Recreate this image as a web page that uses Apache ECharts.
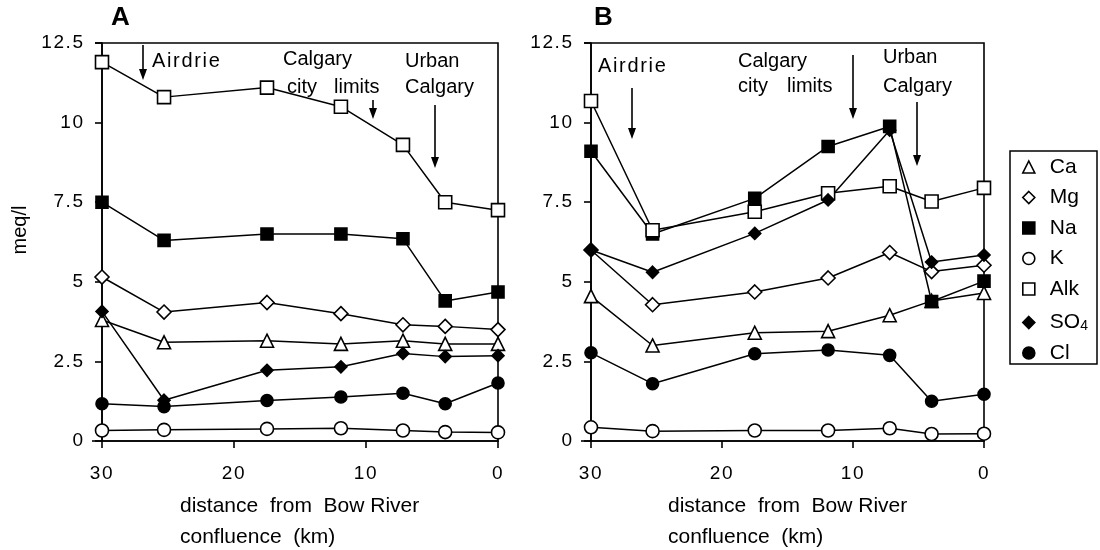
<!DOCTYPE html>
<html><head><meta charset="utf-8">
<script src="https://cdn.jsdelivr.net/npm/echarts@6/dist/echarts.min.js"></script>
<style>html,body{margin:0;padding:0;background:#fff}#c{width:1100px;height:550px}</style>
</head><body><div id="c"></div>
<script>
// distance from Bow River confluence (km)
const distances = [30, 25.3, 17.5, 11.9, 7.2, 4, 0];
const ions = ['Ca', 'Mg', 'Na', 'K', 'Alk', 'SO4', 'Cl'];

// Panel A (meq/l)
const A_Ca  = [3.8, 3.1, 3.15, 3.05, 3.15, 3.05, 3.05];
const A_Mg  = [5.15, 4.05, 4.35, 4.0, 3.65, 3.6, 3.5];
const A_Na  = [7.5, 6.3, 6.5, 6.5, 6.35, 4.4, 4.68];
const A_K   = [0.33, 0.35, 0.38, 0.4, 0.33, 0.28, 0.27];
const A_Alk = [11.9, 10.8, 11.1, 10.5, 9.3, 7.5, 7.25];
const A_SO4 = [4.07, 1.28, 2.22, 2.33, 2.75, 2.65, 2.68];
const A_Cl  = [1.17, 1.08, 1.27, 1.38, 1.5, 1.17, 1.82];

// Panel B (meq/l)
const B_Ca  = [4.55, 3.0, 3.4, 3.45, 3.95, 4.4, 4.65];
const B_Mg  = [6.0, 4.28, 4.68, 5.12, 5.92, 5.32, 5.52];
const B_Na  = [9.1, 6.5, 7.62, 9.25, 9.88, 4.38, 5.02];
const B_K   = [0.43, 0.31, 0.33, 0.33, 0.4, 0.22, 0.23];
const B_Alk = [10.68, 6.62, 7.2, 7.78, 8.0, 7.52, 7.95];
const B_SO4 = [6.0, 5.3, 6.52, 7.57, 9.76, 5.62, 5.84];
const B_Cl  = [2.77, 1.8, 2.74, 2.86, 2.69, 1.25, 1.47];

const panelA = [A_Ca, A_Mg, A_Na, A_K, A_Alk, A_SO4, A_Cl];
const panelB = [B_Ca, B_Mg, B_Na, B_K, B_Alk, B_SO4, B_Cl];

const symStyle = {
  Ca:  {symbol: 'triangle', size: 13, fill: '#fff'},
  Mg:  {symbol: 'diamond',  size: 14, fill: '#fff'},
  Na:  {symbol: 'rect',     size: 12, fill: '#000'},
  K:   {symbol: 'circle',   size: 13, fill: '#fff'},
  Alk: {symbol: 'rect',     size: 13, fill: '#fff'},
  SO4: {symbol: 'diamond',  size: 12, fill: '#000'},
  Cl:  {symbol: 'circle',   size: 12, fill: '#000'}
};

const FONT = 'Liberation Sans, Arial, Helvetica, sans-serif';
const TS = '\u200A';   // slight tracking between digits
const spread = s => s.split('').join(TS);

function mkAxes(idx) {
  const x = {
    type: 'value', gridIndex: idx, inverse: true, min: 0, max: 30, interval: 10,
    axisLine: {show: true, onZero: false, lineStyle: {color: '#000', width: 1.6}},
    axisTick: {show: true, length: 7, lineStyle: {color: '#000', width: 1.6}},
    axisLabel: {color: '#000', fontSize: 19, fontFamily: FONT, margin: 23,
      formatter: v => spread(String(v)) + TS},
    splitLine: {show: false}
  };
  const y = {
    type: 'value', gridIndex: idx, min: 0, max: 12.5, interval: 2.5,
    axisLine: {show: true, onZero: false, lineStyle: {color: '#000', width: 1.6}},
    axisTick: {show: true, length: 7, lineStyle: {color: '#000', width: 1.6}},
    axisLabel: {color: '#000', fontSize: 19, fontFamily: FONT, margin: 19,
      formatter: v => spread(String(v))},
    splitLine: {show: false}
  };
  return {x, y};
}

const axA = mkAxes(0), axB = mkAxes(1);

const series = [];
[panelA, panelB].forEach((panel, pi) => {
  panel.forEach((vals, i) => {
    const ion = ions[i];
    const st = symStyle[ion];
    series.push({
      name: ion, type: 'line', xAxisIndex: pi, yAxisIndex: pi,
      data: distances.map((d, k) => [d, vals[k]]),
      symbol: st.symbol, symbolSize: st.size, showAllSymbol: true,
      lineStyle: {color: '#000', width: 1.5},
      itemStyle: {color: st.fill, borderColor: '#000', borderWidth: 1.6, opacity: 1},
      z: 3, animation: false
    });
  });
});

function txt(left, top, text, size, weight) {
  return {type: 'text', left, top, style: {text, fill: '#000', font: (weight || 'normal') + ' ' + (size || 20) + 'px ' + FONT}};
}
function arrow(x, y1, y2) {
  return [
    {type: 'line', shape: {x1: x, y1: y1, x2: x, y2: y2 - 4}, style: {stroke: '#000', lineWidth: 1.6}},
    {type: 'polygon', shape: {points: [[x - 4, y2 - 11], [x + 4, y2 - 11], [x, y2]]}, style: {fill: '#000'}}
  ];
}
function hline(x1, x2, y) {
  return {type: 'line', shape: {x1, y1: y, x2, y2: y}, style: {stroke: '#000', lineWidth: 1.6}};
}
const airdrie = 'Airdrie'.split('').join('\u200A');

const graphic = [
  txt(111, 5, 'A', 26, 'bold'),
  txt(594, 5, 'B', 26, 'bold'),
  {type: 'text', x: 20, y: 230, rotation: Math.PI / 2,
   style: {text: 'meq/l', fill: '#000', font: '20px ' + FONT, align: 'center', verticalAlign: 'middle'}},
  // axis stubs extending left of the y axes
  hline(92, 102, 441), hline(581, 591, 441), hline(95, 102, 43), hline(584, 591, 43),
  // Panel A annotations
  txt(152, 51, airdrie), ...arrow(143, 45, 80),
  txt(283, 49, 'Calgary'), txt(287, 77, 'city'), txt(334, 77, 'limits'), ...arrow(373, 100, 119),
  txt(405, 51, 'Urban'), txt(405, 77, 'Calgary'), ...arrow(435, 105, 168),
  // Panel B annotations
  txt(598, 56, airdrie), ...arrow(632, 88, 139),
  txt(738, 51, 'Calgary'), txt(738, 76, 'city'), txt(787, 76, 'limits'), ...arrow(853, 55, 119),
  txt(883, 47, 'Urban'), txt(883, 76, 'Calgary'), ...arrow(917, 102, 166),
  // x axis titles
  txt(180, 496, 'distance  from  Bow River', 21), txt(180, 527, 'confluence  (km)', 21),
  txt(668, 496, 'distance  from  Bow River', 21), txt(668, 527, 'confluence  (km)', 21),
  // legend frame
  {type: 'rect', shape: {x: 1010, y: 151, width: 87, height: 213}, style: {fill: 'none', stroke: '#000', lineWidth: 1.5}}
];

const option = {
  backgroundColor: '#fff',
  animation: false,
  grid: [
    {left: 102, right: 602, top: 43, bottom: 109, show: true, borderColor: '#000', borderWidth: 1.6, backgroundColor: 'transparent'},
    {left: 591, right: 116, top: 43, bottom: 109, show: true, borderColor: '#000', borderWidth: 1.6, backgroundColor: 'transparent'}
  ],
  xAxis: [axA.x, axB.x],
  yAxis: [axA.y, axB.y],
  legend: {
    orient: 'vertical', left: 1022, top: 156.5, itemGap: 9.5, itemWidth: 12, itemHeight: 12,
    selectedMode: false, padding: 0,
    textStyle: {color: '#000', fontSize: 21, lineHeight: 21, fontFamily: FONT, padding: [0, 0, 0, 10],
      rich: {sub: {fontSize: 14, lineHeight: 21, fontFamily: FONT, color: '#000', verticalAlign: 'bottom', padding: [10, 0, 0, 0]}}},
    formatter: n => n === 'SO4' ? 'SO{sub|4}' : n,
    data: ions.map(ion => {
      const st = symStyle[ion];
      return {name: ion, icon: st.symbol, itemStyle: {color: st.fill, borderColor: '#000', borderWidth: 1.6}};
    })
  },
  graphic: graphic,
  series: series
};

const chart = echarts.init(document.getElementById('c'), null, {renderer: 'canvas'});
chart.setOption(option);
</script>
</body></html>
